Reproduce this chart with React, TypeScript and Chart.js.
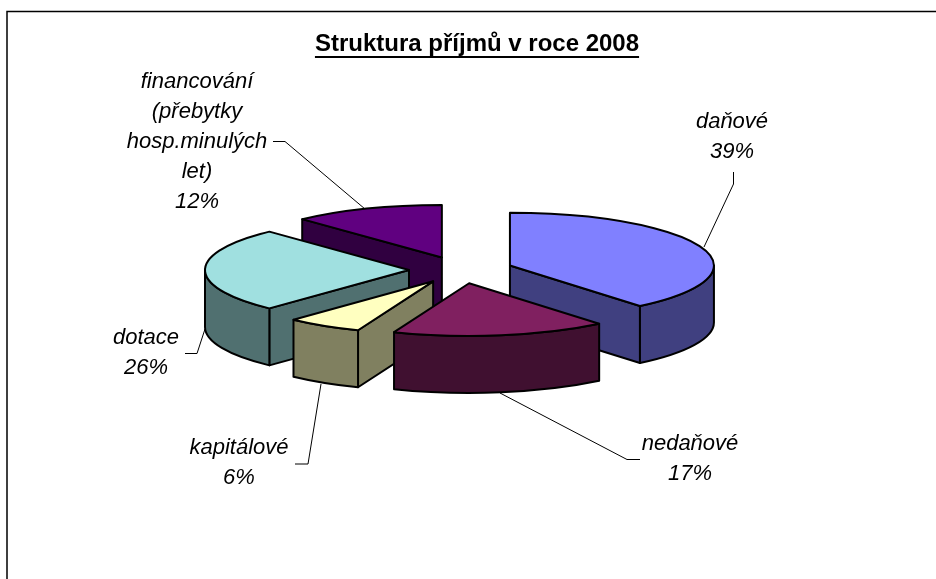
import React, { useEffect, useRef } from "react";
import { Chart, registerables } from "chart.js";

Chart.register(...registerables);

const titleText = "Struktura příjmů v roce 2008";
const categories = [
  ["daňové"],
  ["nedaňové"],
  ["kapitálové"],
  ["dotace"],
  ["financování", "(přebytky", "hosp.minulých", "let)"],
];
const shares = [39, 17, 6, 26, 12];
const topColors = ["#8080FF", "#802060", "#FFFFC0", "#A0E0E0", "#600080"];
const sideColors = ["#404080", "#401030", "#808060", "#507070", "#300040"];

const FONT = '"Liberation Sans", Arial, sans-serif';
const CENTER_X = 461;
const CENTER_Y = 270;
const SQUASH = 0.258;
const DEPTH = 57;
const EXPLODE = 52;
const RADIUS = 204;

const labelLayout = [
  { x: 732, y: 121.5, leader: [[733.5, 172], [733.5, 184], [704, 247]] },
  { x: 690, y: 443.5, leader: [[640, 459.5], [627, 459.5], [500, 393]] },
  { x: 239, y: 447.5, leader: [[295, 464], [308, 464], [321, 384]] },
  { x: 146, y: 337.5, leader: [[185, 353.5], [197, 353.5], [205, 329]] },
  { x: 197, y: 81.5, leader: [[273, 141.5], [285, 141.5], [365, 209]] },
];

const pie3d = {
  id: "pie3d",
  beforeDraw(chart: any) {
    const { ctx, width, height } = chart;
    ctx.save();
    ctx.strokeStyle = "#000000";
    ctx.lineWidth = 1.5;
    ctx.beginPath();
    ctx.moveTo(7, height);
    ctx.lineTo(7, 11.5);
    ctx.lineTo(width, 11.5);
    ctx.stroke();
    ctx.restore();
  },
  beforeDatasetDraw(chart: any, args: any) {
    const { ctx } = chart;
    const arcs = args.meta.data;
    const order = arcs
      .map((arc: any, i: number) => ({ arc, i, mid: (arc.startAngle + arc.endAngle) / 2 }))
      .sort((a: any, b: any) => Math.sin(a.mid) - Math.sin(b.mid));

    const geometry = (mid: number) => ({
      ox: CENTER_X + EXPLODE * Math.cos(mid),
      oy: CENTER_Y + SQUASH * EXPLODE * Math.sin(mid),
    });

    ctx.save();
    ctx.lineWidth = 2;
    ctx.lineJoin = "round";
    ctx.strokeStyle = "#000000";

    // side walls, back to front
    for (const { arc, i, mid } of order) {
      const { ox, oy } = geometry(mid);
      const r = arc.outerRadius;
      const ry = r * SQUASH;
      const point = (a: number) => [ox + r * Math.cos(a), oy + ry * Math.sin(a)];
      const s = arc.startAngle;
      const e = arc.endAngle;
      ctx.fillStyle = sideColors[i];
      const radialWall = (a: number) => {
        const [px, py] = point(a);
        ctx.beginPath();
        ctx.moveTo(ox, oy);
        ctx.lineTo(px, py);
        ctx.lineTo(px, py + DEPTH);
        ctx.lineTo(ox, oy + DEPTH);
        ctx.closePath();
        ctx.fill();
        ctx.stroke();
      };
      if (Math.cos(s) < -0.001) radialWall(s);
      if (Math.cos(e) > 0.001) radialWall(e);
      const a0 = Math.max(s, 0);
      const a1 = Math.min(e, Math.PI);
      if (a1 > a0) {
        ctx.beginPath();
        ctx.ellipse(ox, oy, r, ry, 0, a0, a1);
        ctx.ellipse(ox, oy + DEPTH, r, ry, 0, a1, a0, true);
        ctx.closePath();
        ctx.fill();
        ctx.stroke();
      }
    }

    // top faces, drawn by the library's own arc elements
    for (const { arc, mid } of order) {
      const { ox, oy } = geometry(mid);
      ctx.save();
      ctx.translate(ox, oy);
      ctx.scale(1, SQUASH);
      ctx.translate(-arc.x, -arc.y);
      arc.draw(ctx);
      ctx.beginPath();
      ctx.moveTo(arc.x, arc.y);
      ctx.arc(arc.x, arc.y, arc.outerRadius, arc.startAngle, arc.endAngle);
      ctx.closePath();
      ctx.restore();
      ctx.stroke();
    }
    ctx.restore();
    return false;
  },
  afterDraw(chart: any) {
    const { ctx } = chart;
    ctx.save();
    // title underline
    ctx.font = `bold 24px ${FONT}`;
    const w = ctx.measureText(titleText).width;
    const titleCenter = (chart.options.layout.padding.left + chart.width) / 2;
    ctx.fillStyle = "#000000";
    ctx.fillRect(titleCenter - w / 2, 56, w, 2);

    // data labels
    ctx.font = `italic 22px ${FONT}`;
    ctx.textAlign = "center";
    ctx.textBaseline = "middle";
    const labels = chart.data.labels;
    const values = chart.data.datasets[0].data;
    labels.forEach((lines: string[], i: number) => {
      const place = labelLayout[i];
      [...lines, `${values[i]}%`].forEach((line, n) => {
        ctx.fillStyle = "#000000";
        ctx.fillText(line, place.x, place.y + n * 30);
      });
      ctx.strokeStyle = "#000000";
      ctx.lineWidth = 1;
      ctx.beginPath();
      place.leader.forEach(([x, y], n) => (n ? ctx.lineTo(x, y) : ctx.moveTo(x, y)));
      ctx.stroke();
    });
    ctx.restore();
  },
};

export default function App() {
  const ref = useRef<HTMLCanvasElement | null>(null);
  useEffect(() => {
    const chart = new Chart(ref.current as HTMLCanvasElement, {
      type: "pie",
      data: {
        labels: categories as any,
        datasets: [
          {
            data: shares,
            backgroundColor: topColors,
            borderWidth: 0,
            radius: RADIUS,
          } as any,
        ],
      },
      options: {
        animation: false,
        responsive: false,
        layout: { padding: { left: 18, right: 0, top: 0, bottom: 0 } },
        plugins: {
          legend: { display: false },
          tooltip: { enabled: false },
          title: {
            display: true,
            text: titleText,
            color: "#000000",
            align: "center",
            font: { family: FONT, size: 24, weight: "bold", lineHeight: 1.2 },
            padding: { top: 29.6, bottom: 10 },
          },
        },
      } as any,
      plugins: [pie3d as any],
    });
    return () => chart.destroy();
  }, []);
  return (
    <canvas
      ref={ref}
      width={936}
      height={579}
      style={{ position: "absolute", left: 0, top: 0, width: 936, height: 579, display: "block", background: "#ffffff" }}
    />
  );
}
